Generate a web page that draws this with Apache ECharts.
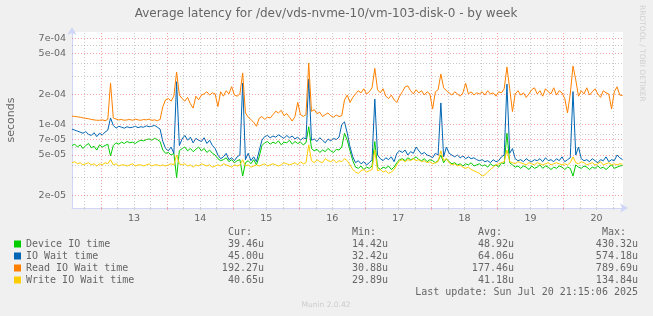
<!DOCTYPE html>
<html><head><meta charset="utf-8">
<script src="https://cdn.jsdelivr.net/npm/echarts@6/dist/echarts.min.js"></script>
<style>html,body{margin:0;padding:0;background:#f0f0f0}#c{width:653px;height:316px}</style>
</head><body><div id="c"></div>
<script>
// time axis: fractional day of July; one sample per hour
const startDay = 12.56;
const stepDays = 1 / 24;
const xMin = 12.56, xMax = 20.9;
const yMin = 1.504e-5, yMax = 8.15e-4;

// values in microseconds
const deviceIO = [
62,64,60,63,58,62,65,59,61,56,
63,60,62,64,49,62,66,64,67,65,
68,66,67,65,68,70,69,71,72,70,
73,71,68,56,52,53,50,52,30,55,
58,60,55,58,54,57,60,55,58,53,
56,52,50,46,44,45,47,43,45,42,
44,45,31,42,44,41,45,40,48,62,
66,68,64,67,65,69,63,67,66,70,
64,68,65,67,63,66,95,58,55,57,
53,56,54,58,55,53,57,56,60,82,
70,55,44,38,37,39,36,38,37,39,
68,38,36,38,37,39,36,38,42,45,
46,44,47,45,46,48,45,44,46,43,
45,44,42,44,50,42,46,43,41,42,
40,41,39,41,40,42,39,40,41,39,
40,38,41,39,40,38,42,41,82,42,
40,38,39,37,39,38,36,39,37,38,
40,37,39,38,36,38,37,39,38,36,
38,37,31,40,38,37,39,38,36,38,
37,39,37,38,36,38,40,37,38,39,
39.46];

const ioWait = [
90,88,86,84,82,85,80,78,83,76,
82,79,84,88,116,98,92,96,94,92,
95,93,94,96,93,95,94,97,95,96,
98,94,90,68,58,55,60,52,264,62,
72,78,70,75,66,73,70,68,74,65,
70,62,58,50,46,48,52,45,47,44,
48,50,256,45,52,44,48,43,55,70,
76,78,74,77,75,79,76,73,78,74,
77,72,75,70,74,72,280,70,72,68,
74,70,66,72,69,73,71,75,100,106,
82,60,48,42,44,41,43,40,42,45,
178,50,46,44,47,45,48,43,52,55,
53,56,50,54,52,60,55,51,53,50,
49,47,52,50,163,48,60,52,50,48,
50,47,49,46,48,46,47,45,44,45,
43,44,42,45,43,44,48,50,250,52,
58,46,44,45,43,46,44,43,45,44,
46,43,47,44,45,43,46,44,48,43,
45,47,211,50,60,46,44,45,43,46,
44,42,45,44,48,43,45,44,50,47,
45.00];

const readIOWait = [
121,120,119,118,116,115,114,112,111,110,
110,111,109,112,256,116,113,111,112,110,
111,112,110,113,111,110,112,111,113,110,
111,109,112,150,175,180,170,190,329,195,
180,170,185,160,145,190,175,195,200,210,
195,205,200,150,210,190,215,200,236,195,
190,200,322,130,118,112,105,96,115,120,
112,118,116,125,135,130,138,122,128,118,
108,120,165,125,120,125,403,135,140,128,
132,120,125,130,122,118,124,120,122,175,
195,165,185,200,215,205,225,200,210,230,
357,220,205,225,190,180,195,175,165,190,
210,235,240,215,200,220,205,215,195,210,
200,142,210,220,314,230,215,205,195,210,
200,190,205,255,200,210,195,205,200,210,
195,215,200,205,190,210,205,225,368,225,
134,200,215,195,205,185,200,220,230,200,
215,190,225,210,200,230,195,215,205,180,
130,200,377,275,190,215,200,230,195,210,
225,200,185,215,205,200,142,210,235,195,
192.27];

const writeIOWait = [
42,43,41,42,40,41,42,40,41,39,
41,40,42,41,45,40,41,39,40,40,
39,40,41,39,40,40,39,40,41,39,
40,40,39,40,39,40,41,40,50,41,
40,41,39,40,38,40,39,41,40,39,
40,38,39,40,39,41,40,39,38,40,
39,40,45,39,40,38,39,40,39,40,
41,39,40,41,40,39,40,42,41,40,
41,42,40,43,41,42,63,44,42,45,
43,42,46,44,43,45,42,44,43,46,
44,40,36,34,33,35,36,34,35,36,
56,35,36,34,35,33,34,36,40,44,
45,43,45,44,46,44,45,43,44,42,
43,41,42,43,55,44,46,42,40,41,
39,40,38,37,38,36,35,34,33,31,
32,34,36,38,40,41,42,43,56,43,
42,41,43,42,41,40,42,41,40,42,
41,40,41,42,40,41,42,41,40,41,
40,42,48,42,41,43,42,40,41,42,
40,41,43,40,41,42,40,41,40,41,
40.65];

const seriesNames = ['Device IO time', 'IO Wait time', 'Read IO Wait time', 'Write IO Wait time'];
const seriesColors = ['#00CC00', '#0066B3', '#FF8000', '#FFCC00'];
const curVals = ['39.46u', '45.00u', '192.27u', '40.65u'];
const minVals = ['14.42u', '32.42u', '30.88u', '29.89u'];
const avgVals = ['48.92u', '64.06u', '177.46u', '41.18u'];
const maxVals = ['430.32u', '574.18u', '789.69u', '134.84u'];

const yMajorTicks = [2e-5, 5e-5, 7e-5, 1e-4, 2e-4, 5e-4, 7e-4];
const yMinorTicks = [3e-5, 4e-5, 6e-5, 8e-5, 3e-4, 4e-4, 6e-4];
const dayTicks = [13, 14, 15, 16, 17, 18, 19, 20];
const dayLabels = ['13', '14', '15', '16', '17', '18', '19', '20'];

const titleText = 'Average latency for /dev/vds-nvme-10/vm-103-disk-0 - by week';
const lastUpdate = 'Last update: Sun Jul 20 21:15:06 2025';

function toPairs(arr) { return arr.map((v, i) => [startDay + i * stepDays, v * 1e-6]); }
function fmtExp(v) { return v.toExponential(0).replace(/e([+-])(\d)$/, 'e$10$2'); }

const minorX = [];
for (let d = 12; d <= 20; d++) for (const q of [0.25, 0.5, 0.75]) { const x = d + q; if (x > xMin && x < xMax) minorX.push(x); }

const FONT = '#666666';
const RED = 'rgba(232,74,74,0.5)';
const GREY = 'rgba(143,143,143,0.45)';
const AXIS = '#CFD6F8';
const LG = Math.log10;

const chart = echarts.init(document.getElementById('c'), null, { renderer: 'canvas' });

const lblStyle = { show: true, position: 'start', color: FONT, fontFamily: 'DejaVu Sans', fontSize: 9.5 };
// grid lines / labels drawn on a helper linear axis in log10 units (yAxisIndex 1)
const gridSeries = [
  { type: 'line', yAxisIndex: 1, data: [], z: 1, silent: true,
    markLine: { silent: true, symbol: ['none', 'none'], animation: false,
      lineStyle: { color: GREY, type: [1, 2], width: 1 }, label: { show: false },
      data: yMinorTicks.map(v => ({ yAxis: LG(v) })).concat(minorX.map(x => ({ xAxis: x }))) } },
  { type: 'line', yAxisIndex: 1, data: [], z: 1, silent: true,
    markLine: { silent: true, symbol: ['none', 'none'], animation: false,
      lineStyle: { color: RED, type: [1, 2], width: 1 },
      label: Object.assign({}, lblStyle, { distance: 6 }),
      data: yMajorTicks.map(v => ({ yAxis: LG(v), label: { formatter: fmtExp(v) } }))
        .concat(dayTicks.map(x => ({ xAxis: x, label: { show: false } }))) } },
  { type: 'line', yAxisIndex: 1, data: [], z: 1, silent: true,
    markLine: { silent: true, symbol: ['none', 'none'], animation: false,
      lineStyle: { color: 'rgba(255,255,255,0)', width: 1 },
      label: Object.assign({}, lblStyle, { distance: 6 }),
      data: dayTicks.map((d, i) => ({ xAxis: d + 0.5, label: { formatter: dayLabels[i] } })) } }
];

const dataSets = [deviceIO, ioWait, readIOWait, writeIOWait];
const dataSeries = dataSets.map((arr, k) => ({
  name: seriesNames[k], type: 'line', yAxisIndex: 0, data: toPairs(arr), showSymbol: false, symbol: 'none',
  z: 3 + k, lineStyle: { color: seriesColors[k], width: 1 }, itemStyle: { color: seriesColors[k] },
  animation: false
}));

const graphic = [];
graphic.push({ type: 'text', x: 326, y: 14, style: { text: titleText, fill: FONT, font: '12px "DejaVu Sans"', align: 'center', verticalAlign: 'middle' } });
graphic.push({ type: 'text', x: 11, y: 120, rotation: Math.PI / 2, style: { text: 'seconds', fill: FONT, font: '11px "DejaVu Sans"', align: 'center', verticalAlign: 'middle' } });
graphic.push({ type: 'text', x: 642, y: 5, rotation: -Math.PI / 2, style: { text: 'RRDTOOL / TOBI OETIKER', fill: '#d0d0d0', font: '7.5px "DejaVu Sans"', align: 'left', verticalAlign: 'middle' } });
graphic.push({ type: 'text', x: 326, y: 305, style: { text: 'Munin 2.0.42', fill: '#cccccc', font: '7.5px "DejaVu Sans"', align: 'center', verticalAlign: 'middle' } });
const MONO = '10px "DejaVu Sans Mono"';
const headers = ['Cur:', 'Min:', 'Avg:', 'Max:'];
const headerRight = [252, 376, 502, 626];
const valueRight = [264, 388, 514, 638];
headers.forEach((h, j) => graphic.push({ type: 'text', x: headerRight[j], y: 232, style: { text: h, fill: FONT, font: MONO, align: 'right', verticalAlign: 'middle' } }));
const cols = [curVals, minVals, avgVals, maxVals];
seriesNames.forEach((n, k) => {
  const y = 244 + k * 12;
  graphic.push({ type: 'rect', shape: { x: 14, y: y - 3.5, width: 7, height: 7 }, style: { fill: seriesColors[k] } });
  graphic.push({ type: 'text', x: 26, y: y, style: { text: n, fill: FONT, font: MONO, align: 'left', verticalAlign: 'middle' } });
  cols.forEach((c, j) => graphic.push({ type: 'text', x: valueRight[j], y: y, style: { text: c[k], fill: FONT, font: MONO, align: 'right', verticalAlign: 'middle' } }));
});
graphic.push({ type: 'text', x: 638, y: 292, style: { text: lastUpdate, fill: FONT, font: MONO, align: 'right', verticalAlign: 'middle' } });

chart.setOption({
  backgroundColor: '#f0f0f0',
  animation: false,
  grid: { left: 72, right: 30, top: 32, bottom: 108, show: true, backgroundColor: '#ffffff', borderWidth: 0 },
  xAxis: [
    { type: 'value', min: xMin, max: xMax,
      axisLine: { show: true, onZero: false, lineStyle: { color: AXIS, width: 1 }, symbol: ['none', 'arrow'], symbolSize: [7, 8], symbolOffset: [0, 5] },
      axisTick: { show: true, length: 2, customValues: minorX, lineStyle: { color: '#cfcfcf' } },
      axisLabel: { show: false }, splitLine: { show: false } },
    { type: 'value', min: xMin, max: xMax, position: 'bottom',
      axisLine: { show: false },
      axisTick: { show: true, length: 2, customValues: dayTicks, lineStyle: { color: '#f2a5a5' } },
      axisLabel: { show: false }, splitLine: { show: false } }
  ],
  yAxis: [
    { type: 'log', min: yMin, max: yMax, logBase: 10,
      axisLine: { show: true, lineStyle: { color: AXIS, width: 1 }, symbol: ['none', 'arrow'], symbolSize: [7, 8], symbolOffset: [0, 5] },
      axisTick: { show: false }, axisLabel: { show: false }, splitLine: { show: false }, minorSplitLine: { show: false } },
    { type: 'value', min: LG(yMin), max: LG(yMax), position: 'left', show: false,
      axisLine: { show: false }, axisTick: { show: false }, axisLabel: { show: false }, splitLine: { show: false } }
  ],
  series: gridSeries.concat(dataSeries),
  graphic: graphic
});
</script>
</body></html>
